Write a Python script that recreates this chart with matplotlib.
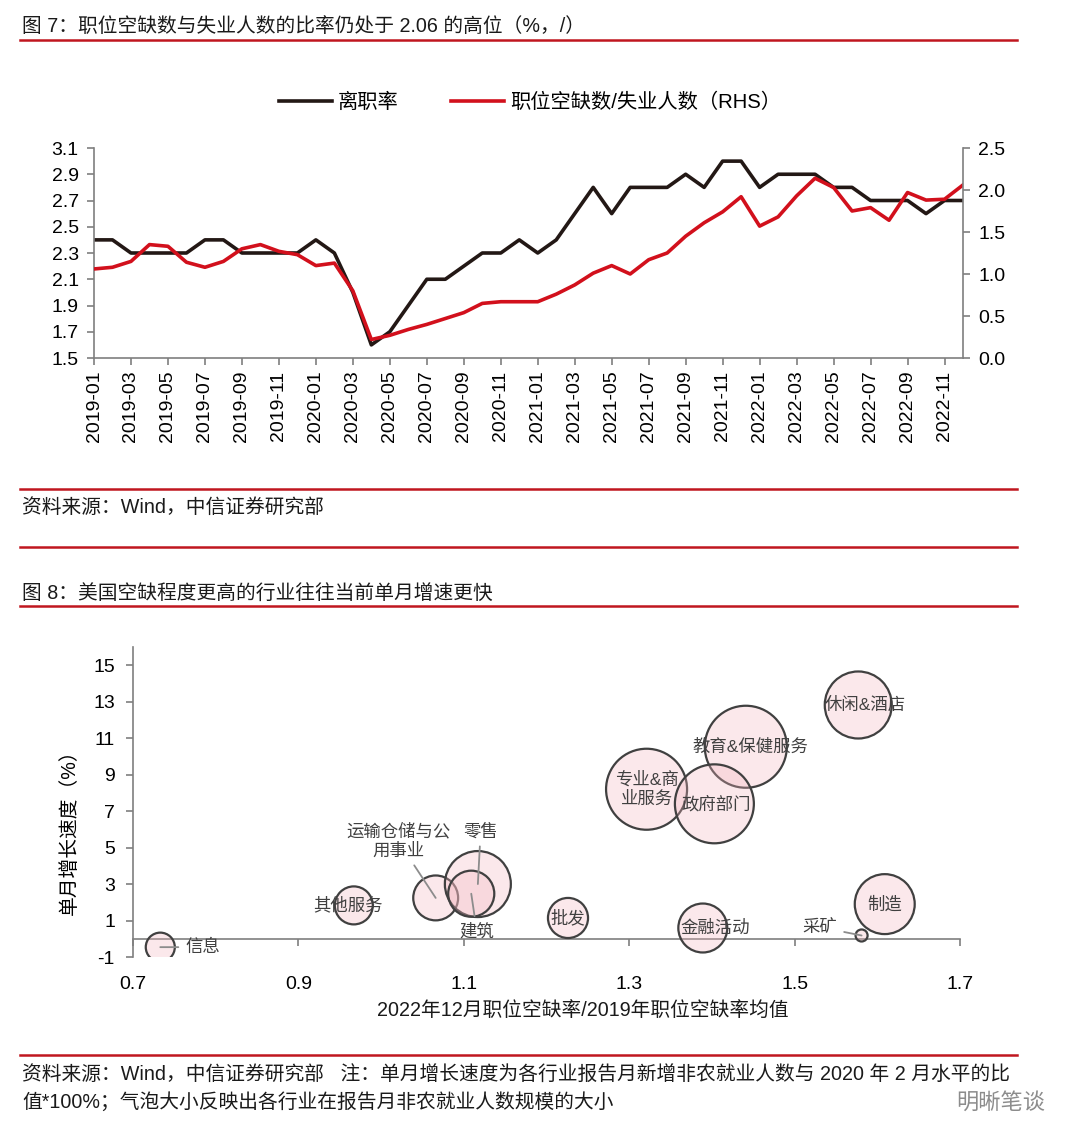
import numpy as np
import pandas as pd
import matplotlib
matplotlib.use('Agg')
import matplotlib.pyplot as plt
from matplotlib.lines import Line2D

plt.rcParams['font.family'] = ['Liberation Sans', 'Noto Sans CJK SC']
plt.rcParams['axes.unicode_minus'] = False

# ---- fig 7 data ----
months = pd.date_range('2019-01-01', periods=48, freq='MS').strftime('%Y-%m').tolist()
quits = [2.4, 2.4, 2.3, 2.3, 2.3, 2.3, 2.4, 2.4, 2.3, 2.3, 2.3, 2.3,
         2.4, 2.3, 2.0, 1.6, 1.7, 1.9, 2.1, 2.1, 2.2, 2.3, 2.3, 2.4,
         2.3, 2.4, 2.6, 2.8, 2.6, 2.8, 2.8, 2.8, 2.9, 2.8, 3.0, 3.0,
         2.8, 2.9, 2.9, 2.9, 2.8, 2.8, 2.7, 2.7, 2.7, 2.6, 2.7, 2.7]
ratio = [1.06, 1.08, 1.15, 1.35, 1.33, 1.14, 1.08, 1.15, 1.30, 1.35, 1.27, 1.23,
         1.10, 1.13, 0.80, 0.22, 0.27, 0.34, 0.40, 0.47, 0.54, 0.65, 0.67, 0.67,
         0.67, 0.76, 0.87, 1.01, 1.10, 1.00, 1.17, 1.25, 1.45, 1.61, 1.74, 1.92,
         1.57, 1.68, 1.93, 2.14, 2.03, 1.75, 1.79, 1.64, 1.97, 1.88, 1.89, 2.06]
left_ticks = [1.5, 1.7, 1.9, 2.1, 2.3, 2.5, 2.7, 2.9, 3.1]
right_ticks = [0.0, 0.5, 1.0, 1.5, 2.0, 2.5]

# ---- fig 8 data ----
industries = ['信息', '其他服务', '运输仓储与公\n用事业', '零售', '建筑', '批发', '金融活动',
              '采矿', '制造', '休闲&酒店', '教育&保健服务', '专业&商\n业服务', '政府部门']
vac_ratio = [0.733, 0.967, 1.066, 1.117, 1.109, 1.226, 1.389, 1.581, 1.609, 1.577, 1.441, 1.321, 1.403]
growth = [-0.46, 1.83, 2.24, 3.0, 2.47, 1.14, 0.59, 0.18, 1.9, 12.82, 10.53, 8.2, 7.4]
employment = [3.1, 5.3, 7.4, 16.0, 7.8, 5.9, 8.8, 0.53, 13.2, 16.5, 24.7, 24.1, 22.9]
bx_ticks = [0.7, 0.9, 1.1, 1.3, 1.5, 1.7]
by_ticks = [-1, 1, 3, 5, 7, 9, 11, 13, 15]

W, H = 1080, 1135
fig = plt.figure(figsize=(W / 100, H / 100), dpi=100)
RED = '#c0161f'
AX = '#7f7f7f'
TXT = 14.2


def px_axes(x0, y0, x1, y1):
    return fig.add_axes([x0 / W, 1 - y1 / H, (x1 - x0) / W, (y1 - y0) / H])


def hline(y):
    fig.add_artist(Line2D([20 / W, 1017 / W], [1 - y / H, 1 - y / H], color=RED, lw=1.8))


# headers, sources, separator lines
fig.text(22 / W, 1 - 27 / H, '图 7：职位空缺数与失业人数的比率仍处于 2.06 的高位（%，/）',
         fontsize=TXT, va='center', color='#1a1a1a')
hline(40)
hline(489)
fig.text(22 / W, 1 - 507 / H, '资料来源：Wind，中信证券研究部', fontsize=TXT, va='center', color='#1a1a1a')
hline(547)
fig.text(22 / W, 1 - 593 / H, '图 8：美国空缺程度更高的行业往往当前单月增速更快',
         fontsize=TXT, va='center', color='#1a1a1a')
hline(606)
hline(1055)
fig.text(22 / W, 1 - 1074 / H,
         '资料来源：Wind，中信证券研究部   注：单月增长速度为各行业报告月新增非农就业人数与 2020 年 2 月水平的比',
         fontsize=TXT, va='center', color='#1a1a1a')
fig.text(22 / W, 1 - 1102 / H, '值*100%；气泡大小反映出各行业在报告月非农就业人数规模的大小',
         fontsize=TXT, va='center', color='#1a1a1a')
fig.text(1045 / W, 1 - 1103 / H, '明晰笔谈', fontsize=16, ha='right', va='center',
         color='#707070', alpha=0.8)

# ---------------- fig 7 ----------------
ax = px_axes(94, 148, 963, 358)
x = np.arange(len(months))
ax.plot(x, quits, color='#231815', lw=2.6, label='离职率')
ax2 = ax.twinx()
ax2.plot(x, ratio, color='#d2101c', lw=2.6, label='职位空缺数/失业人数（RHS）')

ax.set_xlim(0, 47)
ax.set_ylim(1.5, 3.1)
ax2.set_ylim(0, 2.5)
ax.set_yticks(left_ticks)
ax.set_yticklabels([f'{v:.1f}' for v in left_ticks])
ax2.set_yticks(right_ticks)
ax2.set_yticklabels([f'{v:.1f}' for v in right_ticks])
ax.set_xticks(x[::2])
ax.set_xticklabels(months[::2], rotation=90)

for a in (ax, ax2):
    a.spines['top'].set_visible(False)
    for s in a.spines.values():
        s.set_color(AX)
        s.set_linewidth(1.2)
    a.tick_params(direction='out', length=5, width=1.2, color=AX, labelsize=14, pad=6)
ax.spines['right'].set_visible(False)
ax2.spines['left'].set_visible(False)
ax2.spines['bottom'].set_visible(False)
ax.tick_params(axis='x', labelsize=14, pad=4)

h1, l1 = ax.get_legend_handles_labels()
h2, l2 = ax2.get_legend_handles_labels()
fig.legend(h1 + h2, l1 + l2, loc='center', bbox_to_anchor=(530 / W, 1 - 102 / H), ncol=2,
           frameon=False, fontsize=14.6, handlelength=2.6, columnspacing=2.6, handletextpad=0.3)

# ---------------- fig 8 ----------------
bx = px_axes(133, 647, 960, 957)
sizes = np.array(employment) * (16.5 * 0.72) ** 2
bx.scatter(vac_ratio, growth, s=sizes, facecolors=(0.957, 0.714, 0.749, 0.30),
           edgecolors='#404040', linewidths=1.6, zorder=3)
bx.set_xlim(0.7, 1.7)
bx.set_ylim(-1, 16)
bx.set_yticks(by_ticks)
bx.set_xticks(bx_ticks)
bx.spines['top'].set_visible(False)
bx.spines['right'].set_visible(False)
bx.spines['bottom'].set_position(('data', 0))
for s in bx.spines.values():
    s.set_color(AX)
    s.set_linewidth(1.2)
bx.tick_params(direction='out', length=5, width=1.2, color=AX, labelsize=14, pad=8)
bx.tick_params(axis='x', labelbottom=False)

sec = bx.secondary_xaxis('bottom')
sec.set_xticks(bx_ticks)
sec.set_xticklabels([f'{v:.1f}' for v in bx_ticks])
sec.spines['bottom'].set_visible(False)
sec.tick_params(length=0, labelsize=14, pad=14)
fig.text(583 / W, 1 - 1010 / H, '2022年12月职位空缺率/2019年职位空缺率均值', fontsize=14.2,
         ha='center', va='center', color='#1a1a1a')

bx.set_ylabel('单月增长速度（%）', fontsize=14.2)
bx.yaxis.set_label_coords(-0.066, 0.42)

# label offsets (points) and whether a leader line is drawn
label_pos = {
    '信息': (18, 0, 'left', True),
    '其他服务': (-4, 0, 'center', False),
    '运输仓储与公\n用事业': (-27, 41, 'center', True),
    '零售': (2, 38, 'center', True),
    '建筑': (4, -27, 'center', True),
    '批发': (0, 0, 'center', False),
    '金融活动': (9, 0, 'center', False),
    '采矿': (-30, 6, 'center', True),
    '制造': (0, 0, 'center', False),
    '休闲&酒店': (5, 0, 'center', False),
    '教育&保健服务': (3, 0, 'center', False),
    '专业&商\n业服务': (0, 0, 'center', False),
    '政府部门': (1, 0, 'center', False),
}
for name, xv, yv in zip(industries, vac_ratio, growth):
    dx, dy, ha, lead = label_pos[name]
    ap = dict(arrowstyle='-', color='#8c8c8c', lw=1.3, shrinkA=3, shrinkB=0) if lead else None
    bx.annotate(name, (xv, yv), xytext=(dx, dy), textcoords='offset points', ha=ha, va='center',
                fontsize=12.5, color='#404040', multialignment='center', linespacing=1.25,
                arrowprops=ap, zorder=4)

fig.savefig('out.png', dpi=100)
